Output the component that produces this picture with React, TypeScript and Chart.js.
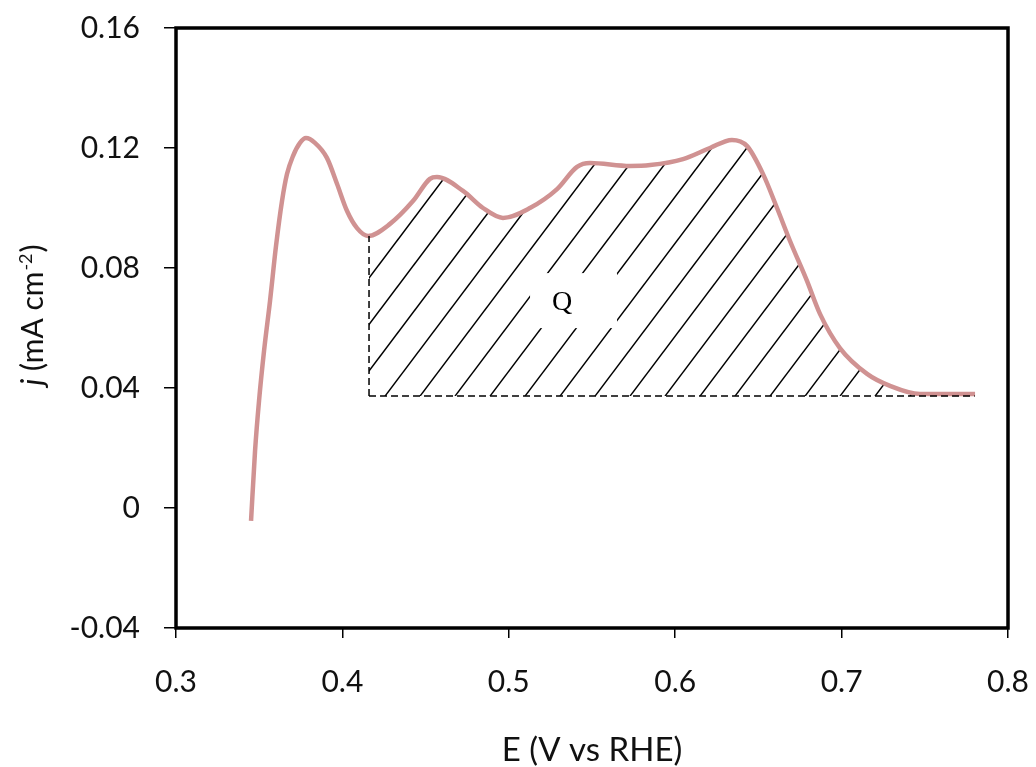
import React, { useEffect, useRef } from 'react';
import { Chart, registerables } from 'chart.js';

Chart.register(...registerables);

// Measured curve: potential E (V vs RHE) and current density j (mA cm^-2)
const potentialE = [
  0.3451, 0.3475, 0.3499, 0.3529, 0.3565, 0.3601, 0.3637, 0.3667,
  0.3703, 0.3745, 0.3781, 0.3835, 0.3907, 0.3968, 0.4028, 0.4088, 0.4154, 0.4286,
  0.4424, 0.4526, 0.4568, 0.4725, 0.4845, 0.4965, 0.5127, 0.529, 0.541,
  0.5488, 0.5728, 0.585, 0.6047, 0.6209, 0.6341, 0.6431, 0.6528, 0.6612, 0.669,
  0.6792, 0.687, 0.699, 0.7153, 0.7291, 0.7471, 0.7651, 0.7802,
];
const currentJ = [
  -0.0043, 0.019, 0.0357, 0.0523, 0.069, 0.0873, 0.1023, 0.1113,
  0.1173, 0.1217, 0.1233, 0.1217, 0.1167, 0.108, 0.099, 0.0933, 0.0907, 0.0947,
  0.1023, 0.1097, 0.1103, 0.1057, 0.1, 0.0967, 0.1, 0.1063, 0.1137,
  0.115, 0.114, 0.1143, 0.1163, 0.12, 0.1227, 0.1207, 0.1113, 0.1, 0.089,
  0.0757, 0.0647, 0.0533, 0.0447, 0.0407, 0.038, 0.038, 0.038,
];

// Charge integration region (Q)
const chargeStartE = 0.416;
const chargeEndE = 0.78;
const chargeBaselineJ = 0.0373;
const chargeTopJ = 0.0907;
const chargeLabel = 'Q';
const chargeLabelE = 0.532;
const chargeLabelJ = 0.0683;

// Axes
const xTicks = [0.3, 0.4, 0.5, 0.6, 0.7, 0.8];
const xTickLabels = ['0.3', '0.4', '0.5', '0.6', '0.7', '0.8'];
const yTicks = [-0.04, 0, 0.04, 0.08, 0.12, 0.16];
const yTickLabels = ['-0.04', '0', '0.04', '0.08', '0.12', '0.16'];
const xTitle = 'E (V vs RHE)';
const yTitleItalic = 'j';
const yTitleMain = ' (mA cm';
const yTitleSup = '-2';
const yTitleEnd = ')';

const FONT = 'Lato, "Open Sans", sans-serif';

function interpJ(e: number): number {
  for (let i = 0; i < potentialE.length - 1; i++) {
    if (e >= potentialE[i] && e <= potentialE[i + 1]) {
      const t = (e - potentialE[i]) / (potentialE[i + 1] - potentialE[i]);
      return currentJ[i] + t * (currentJ[i + 1] - currentJ[i]);
    }
  }
  return currentJ[currentJ.length - 1];
}

const hatchPlugin = {
  id: 'hatchQ',
  beforeDatasetsDraw(chart: any) {
    const { ctx } = chart;
    const x = chart.scales.x;
    const y = chart.scales.y;
    const x0 = x.getPixelForValue(chargeStartE);
    const x1 = x.getPixelForValue(chargeEndE);
    const yb = y.getPixelForValue(chargeBaselineJ);
    ctx.save();
    ctx.beginPath();
    ctx.moveTo(x0, yb);
    ctx.lineTo(x0, y.getPixelForValue(interpJ(chargeStartE)));
    for (let i = 0; i < potentialE.length; i++) {
      if (potentialE[i] > chargeStartE && potentialE[i] <= chargeEndE) {
        ctx.lineTo(x.getPixelForValue(potentialE[i]), y.getPixelForValue(currentJ[i]));
      }
    }
    ctx.lineTo(x1, yb);
    ctx.closePath();
    ctx.clip();
    ctx.strokeStyle = '#000';
    ctx.lineWidth = 1.5;
    const spacing = 35;
    const run = 0.753;
    const start = x0 + 16;
    for (let k = -12; k < 30; k++) {
      const bx = start + k * spacing;
      ctx.beginPath();
      ctx.moveTo(bx, yb);
      ctx.lineTo(bx + run * 320, yb - 320);
      ctx.stroke();
    }
    ctx.restore();

    const qx = x.getPixelForValue(chargeLabelE);
    const qy = y.getPixelForValue(chargeLabelJ);
    ctx.save();
    ctx.fillStyle = '#fff';
    ctx.fillRect(qx - 32, qy - 30, 87, 55);
    ctx.fillStyle = '#000';
    ctx.font = '28px "Liberation Serif", "DejaVu Serif", serif';
    ctx.textAlign = 'center';
    ctx.textBaseline = 'middle';
    ctx.fillText(chargeLabel, qx, qy);
    ctx.restore();
  },
  afterDraw(chart: any) {
    const { ctx, chartArea } = chart;
    ctx.save();
    ctx.strokeStyle = '#000';
    ctx.lineWidth = 3.5;
    ctx.strokeRect(chartArea.left, chartArea.top, chartArea.right - chartArea.left, chartArea.bottom - chartArea.top);

    // x title
    ctx.fillStyle = '#111';
    ctx.font = `33px ${FONT}`;
    ctx.textAlign = 'center';
    ctx.textBaseline = 'alphabetic';
    ctx.fillText(xTitle, (chartArea.left + chartArea.right) / 2, 761);

    // y title (rotated)
    ctx.translate(43, 315);
    ctx.rotate(-Math.PI / 2);
    const mainFont = `30px ${FONT}`;
    const italicFont = `italic 30px ${FONT}`;
    const supFont = `18px ${FONT}`;
    ctx.font = italicFont;
    const wJ = ctx.measureText(yTitleItalic).width;
    ctx.font = mainFont;
    const wMain = ctx.measureText(yTitleMain).width;
    const wEnd = ctx.measureText(yTitleEnd).width;
    ctx.font = supFont;
    const wSup = ctx.measureText(yTitleSup).width;
    const total = wJ + wMain + wSup + wEnd + 2;
    let cx = -total / 2;
    ctx.textAlign = 'left';
    ctx.font = italicFont;
    ctx.fillText(yTitleItalic, cx, 0);
    cx += wJ;
    ctx.font = mainFont;
    ctx.fillText(yTitleMain, cx, 0);
    cx += wMain + 1;
    ctx.font = supFont;
    ctx.fillText(yTitleSup, cx, -11);
    cx += wSup + 1;
    ctx.font = mainFont;
    ctx.fillText(yTitleEnd, cx, 0);
    ctx.restore();
  },
};

function zeroPad(s: any) {
  s.paddingTop = 0;
  s.paddingBottom = 0;
  s.paddingLeft = 0;
  s.paddingRight = 0;
}

export default function App() {
  const canvasRef = useRef<HTMLCanvasElement | null>(null);

  useEffect(() => {
    const canvas = canvasRef.current;
    if (!canvas) return;
    const curve = potentialE.map((e, i) => ({ x: e, y: currentJ[i] }));
    const vertical = [
      { x: chargeStartE, y: chargeBaselineJ },
      { x: chargeStartE, y: chargeTopJ },
    ];
    const horizontal = [
      { x: chargeStartE, y: chargeBaselineJ },
      { x: chargeEndE, y: chargeBaselineJ },
    ];
    const chart = new Chart(canvas, {
      type: 'line',
      data: {
        datasets: [
          {
            data: vertical,
            borderColor: '#000',
            borderWidth: 1.5,
            borderDash: [7, 4],
            pointRadius: 0,
            order: 0,
          },
          {
            data: horizontal,
            borderColor: '#000',
            borderWidth: 1.5,
            borderDash: [7, 4],
            pointRadius: 0,
            order: 0,
          },
          {
            data: curve,
            borderColor: 'rgb(208,146,146)',
            borderWidth: 4.5,
            pointRadius: 0,
            cubicInterpolationMode: 'monotone',
            order: 1,
          },
        ],
      },
      options: {
        responsive: false,
        animation: false,
        layout: { padding: { top: 28, right: 28, left: 0, bottom: 0 } },
        plugins: { legend: { display: false }, tooltip: { enabled: false } },
        scales: {
          x: {
            type: 'linear',
            min: 0.3,
            max: 0.8,
            afterFit(s: any) {
              s.height = 139;
              zeroPad(s);
            },
            afterBuildTicks(s: any) {
              s.ticks = xTicks.map((v) => ({ value: v }));
            },
            ticks: {
              callback: (_v: any, i: number) => xTickLabels[i],
              font: { family: 'Lato', size: 30 },
              color: '#111',
              padding: 26,
              maxRotation: 0,
              autoSkip: false,
            },
            grid: { drawOnChartArea: false, drawTicks: true, tickLength: 10, color: '#000', lineWidth: 1.5 },
            border: { display: false },
          },
          y: {
            type: 'linear',
            min: -0.04,
            max: 0.16,
            afterFit(s: any) {
              s.width = 176;
              zeroPad(s);
            },
            afterBuildTicks(s: any) {
              s.ticks = yTicks.map((v) => ({ value: v }));
            },
            ticks: {
              callback: (_v: any, i: number) => yTickLabels[i],
              font: { family: 'Lato', size: 30 },
              color: '#111',
              padding: 24,
              autoSkip: false,
            },
            grid: { drawOnChartArea: false, drawTicks: true, tickLength: 12, color: '#000', lineWidth: 1.5 },
            border: { display: false },
          },
        },
      },
      plugins: [hatchPlugin],
    } as any);
    return () => chart.destroy();
  }, []);

  return (
    <div style={{ position: 'absolute', left: 0, top: 0, width: 1036, height: 767, background: '#fff' }}>
      <canvas ref={canvasRef} width={1036} height={767} style={{ display: 'block' }} />
    </div>
  );
}
